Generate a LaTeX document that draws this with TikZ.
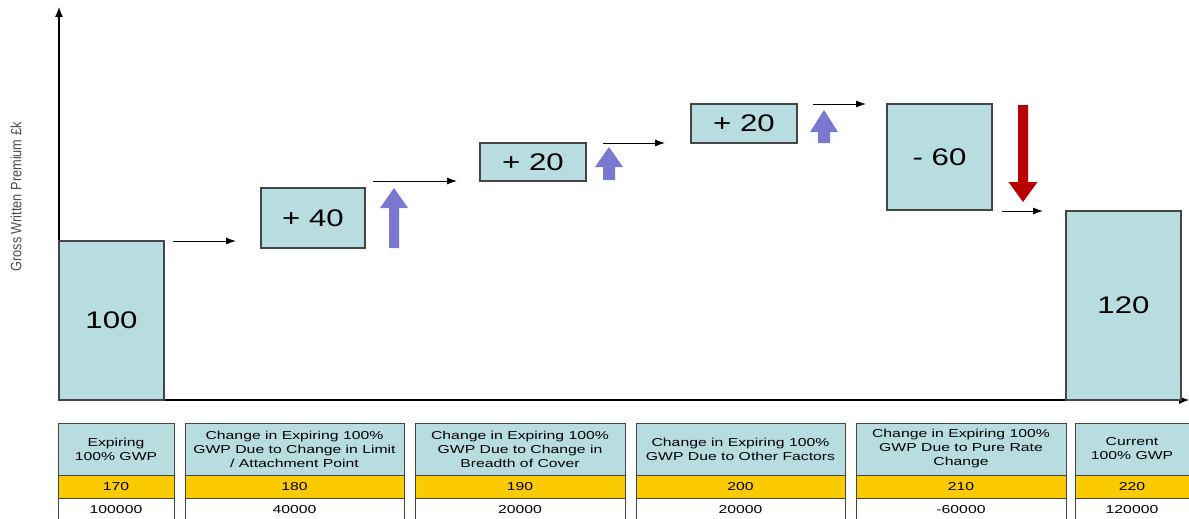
\documentclass[tikz,border=0pt]{standalone}
\usepackage{fontspec}
\setmainfont{Liberation Sans}
\newfontfamily\bigf[FakeStretch=1.3]{Liberation Sans}
\newfontfamily\tabf[FakeStretch=1.37]{Liberation Sans}
\newfontfamily\labf[FakeStretch=0.85]{Liberation Sans}
\usetikzlibrary{arrows.meta}
\definecolor{boxblue}{HTML}{B8DDE1}
\definecolor{boxline}{HTML}{454545}
\definecolor{tabyellow}{HTML}{FACB00}
\definecolor{uparrow}{HTML}{7B78D2}
\definecolor{downarrow}{HTML}{B80000}
\tikzset{
  bar/.style={draw=boxline, line width=1.1pt, fill=boxblue, inner sep=0pt, font=\bigf\fontsize{24}{28}\selectfont},
  flow/.style={line width=1pt, -{Latex[length=10pt,width=7pt]}},
  axisline/.style={line width=1.3pt, -{Latex[length=10pt,width=8pt]}},
  head/.style={draw=boxline, line width=1pt, fill=boxblue, inner sep=0pt, align=center, font=\tabf\fontsize{11.5}{14}\selectfont},
  code/.style={draw=boxline, line width=1pt, fill=tabyellow, inner sep=0pt, font=\tabf\fontsize{11.5}{14}\selectfont},
  val/.style={draw=boxline, line width=1pt, fill=white, inner sep=0pt, font=\tabf\fontsize{11.5}{14}\selectfont},
  upfill/.style={fill=uparrow},
  downfill/.style={fill=downarrow}
}
\begin{document}
\begin{tikzpicture}[x=1pt,y=-1pt]
\useasboundingbox (0,0) rectangle (1189,519);
% axes
\coordinate (origin) at (59,400);
\coordinate (ytop) at (59,7);
\coordinate (xend) at (1189,400);
\draw[axisline] (origin) -- (ytop);
\draw[axisline] (origin) -- (xend);
\node[font=\labf\fontsize{15}{17}\selectfont, text=black!70, rotate=90] (ylab) at (16,197) {Gross Written Premium £k};
% bars and step boxes
\node[bar, minimum width=105pt, minimum height=159pt] (b100) at (111.5,320.5) {100};
\node[bar, minimum width=104pt, minimum height=60pt] (b40) at (313,218) {+ 40};
\node[bar, minimum width=106pt, minimum height=38pt] (b20a) at (533,162) {+ 20};
\node[bar, minimum width=106pt, minimum height=39pt] (b20b) at (744,123.5) {+ 20};
\node[bar, minimum width=105pt, minimum height=106pt] (b60) at (939.5,157) {- 60};
\node[bar, minimum width=115pt, minimum height=189pt] (b120) at (1123.5,305.5) {120};
% connector arrows
\coordinate (s1) at (173,241); \coordinate (e1) at (236,241);
\coordinate (s2) at (373,181); \coordinate (e2) at (457,181);
\coordinate (s3) at (603,143); \coordinate (e3) at (665,143);
\coordinate (s4) at (813,104); \coordinate (e4) at (866,104);
\coordinate (s5) at (1002,211); \coordinate (e5) at (1043,211);
\draw[flow] (s1) -- (e1);
\draw[flow] (s2) -- (e2);
\draw[flow] (s3) -- (e3);
\draw[flow] (s4) -- (e4);
\draw[flow] (s5) -- (e5);
% block arrows
\fill[upfill] (389,248) -- (389,208) -- (380,208) -- (394,188) -- (408,208) -- (399,208) -- (399,248) -- cycle;
\fill[upfill] (603,180) -- (603,167) -- (595,167) -- (609,147) -- (623,167) -- (615,167) -- (615,180) -- cycle;
\fill[upfill] (818,143) -- (818,132) -- (810,132) -- (824,110) -- (838,132) -- (830,132) -- (830,143) -- cycle;
\fill[downfill] (1018,105) -- (1028,105) -- (1028,182) -- (1037.5,182) -- (1023,202) -- (1008.5,182) -- (1018,182) -- cycle;
% table
\node[head, minimum width=116pt, minimum height=52pt] (h1) at (116,449) {Expiring\\100\% GWP};
\node[code, minimum width=116pt, minimum height=23pt] (c1) at (116,486.5) {170};
\node[val, minimum width=116pt, minimum height=24pt] (v1) at (116,510) {100000};
\node[head, minimum width=219pt, minimum height=52pt] (h2) at (294.5,449) {Change in Expiring 100\%\\GWP Due to Change in Limit\\/ Attachment Point};
\node[code, minimum width=219pt, minimum height=23pt] (c2) at (294.5,486.5) {180};
\node[val, minimum width=219pt, minimum height=24pt] (v2) at (294.5,510) {40000};
\node[head, minimum width=210pt, minimum height=52pt] (h3) at (520,449) {Change in Expiring 100\%\\GWP Due to Change in\\Breadth of Cover};
\node[code, minimum width=210pt, minimum height=23pt] (c3) at (520,486.5) {190};
\node[val, minimum width=210pt, minimum height=24pt] (v3) at (520,510) {20000};
\node[head, minimum width=209pt, minimum height=52pt] (h4) at (740.5,449) {Change in Expiring 100\%\\GWP Due to Other Factors};
\node[code, minimum width=209pt, minimum height=23pt] (c4) at (740.5,486.5) {200};
\node[val, minimum width=209pt, minimum height=24pt] (v4) at (740.5,510) {20000};
\node[head, minimum width=210pt, minimum height=52pt] (h5) at (961,449) {Change in Expiring 100\%\\GWP Due to Pure Rate\\Change};
\node[code, minimum width=210pt, minimum height=23pt] (c5) at (961,486.5) {210};
\node[val, minimum width=210pt, minimum height=24pt] (v5) at (961,510) {-60000};
\node[head, minimum width=114pt, minimum height=52pt] (h6) at (1132,449) {Current\\100\% GWP};
\node[code, minimum width=114pt, minimum height=23pt] (c6) at (1132,486.5) {220};
\node[val, minimum width=114pt, minimum height=24pt] (v6) at (1132,510) {120000};
\end{tikzpicture}
\end{document}
